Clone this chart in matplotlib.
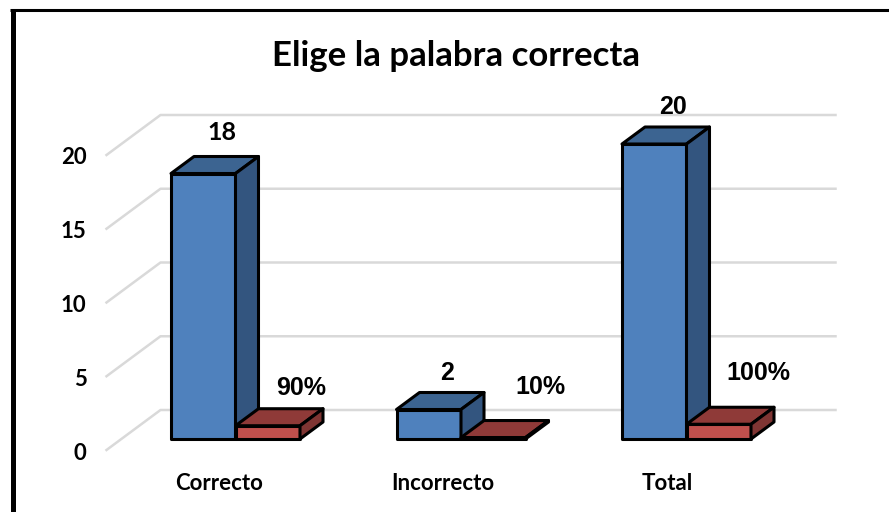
import matplotlib
matplotlib.use('Agg')
import matplotlib.pyplot as plt
from matplotlib.patches import Polygon

categorias = ['Correcto', 'Incorrecto', 'Total']
cantidad = [18, 2, 20]
porcentaje = [0.9, 0.1, 1.0]
etiquetas_pct = ['90%', '10%', '100%']
ticks_y = [0, 5, 10, 15, 20]

CALIBRI = 'Lato'
ARIAL = 'Liberation Sans'

W, H = 889, 512
fig = plt.figure(figsize=(W / 100, H / 100), dpi=100, facecolor='white')
ax = fig.add_axes([0, 0, 1, 1])

# escala: 225.5 px por categoria, 14.75 px por unidad de y
px_x, px_y = 225.5, 14.75
ax.set_xlim(-235.5 / px_x, (W - 235.5) / px_x)
ax.set_ylim(-(H - 439) / px_y, 439 / px_y)
ax.axis('off')

ancho = 64.5 / px_x
prof_x, prof_y = 23 / px_x, 17 / px_y       # fondo de cada barra
pared_x, pared_y = 54 / px_x, 40 / px_y     # fondo del piso
base_x, base_y = -129 / px_x, -11 / px_y    # esquina frontal del piso
fin_x = 600 / px_x

# desplazamientos de las etiquetas, en px
dy_cantidad = [41, 37, 37]
fuente_cantidad = [CALIBRI, ARIAL, ARIAL]
dx_pct = [66, 79, 72]
dy_pct = [38, 51, 51]
dx_cat = [-16, -18, -19]


def caja(x0, alto, frente, tapa, lado):
    x1 = x0 + ancho
    lw = 2.2
    ax.add_patch(Polygon([(x0, 0), (x1, 0), (x1, alto), (x0, alto)], fc=frente, ec='black', lw=lw, joinstyle='round', zorder=3))
    ax.add_patch(Polygon([(x0, alto), (x1, alto), (x1 + prof_x, alto + prof_y), (x0 + prof_x, alto + prof_y)],
                         fc=tapa, ec='black', lw=lw, joinstyle='round', zorder=3))
    ax.add_patch(Polygon([(x1, 0), (x1 + prof_x, prof_y), (x1 + prof_x, alto + prof_y), (x1, alto)],
                         fc=lado, ec='black', lw=lw, joinstyle='round', zorder=3))


# lineas de la pared y del piso
for t in ticks_y:
    ax.plot([base_x, base_x + pared_x, fin_x], [t + base_y, t + base_y + pared_y, t + base_y + pared_y],
            color='#d9d9d9', lw=1.8, zorder=1)
    ax.text(base_x - 20 / px_x, t + base_y - 3 / px_y, str(t), ha='right', va='center', fontsize=16, fontweight='bold', fontfamily=CALIBRI)

for i, cat in enumerate(categorias):
    caja(i - ancho, cantidad[i], '#4f81bd', '#3c6491', '#33557f')
    caja(i, porcentaje[i], '#c0504d', '#8f3a38', '#7f3533')
    ax.text(i - 14 / px_x, cantidad[i] + dy_cantidad[i] / px_y, str(cantidad[i]), ha='center', va='center',
            fontsize=18, fontweight='bold', fontfamily=fuente_cantidad[i])
    ax.text(i + dx_pct[i] / px_x, porcentaje[i] + dy_pct[i] / px_y, etiquetas_pct[i], ha='center', va='center',
            fontsize=18, fontweight='bold', fontfamily=ARIAL)
    ax.text(i + dx_cat[i] / px_x, -44 / px_y, cat, ha='center', va='center', fontsize=16, fontweight='bold', fontfamily=CALIBRI)

ax.text(456 / W, 1 - 56 / H, 'Elige la palabra correcta', transform=ax.transAxes, ha='center', va='center',
        fontsize=25, fontweight='bold', fontfamily=CALIBRI)

# marco exterior
ax.plot([12.5 / W, 12.5 / W], [0, 1 - 9 / H], transform=ax.transAxes, color='black', lw=3.6, zorder=5, solid_capstyle='butt')
ax.plot([10 / W, 1], [1 - 10 / H, 1 - 10 / H], transform=ax.transAxes, color='black', lw=2.2, zorder=5, solid_capstyle='butt')

fig.savefig('out.png', dpi=100)
